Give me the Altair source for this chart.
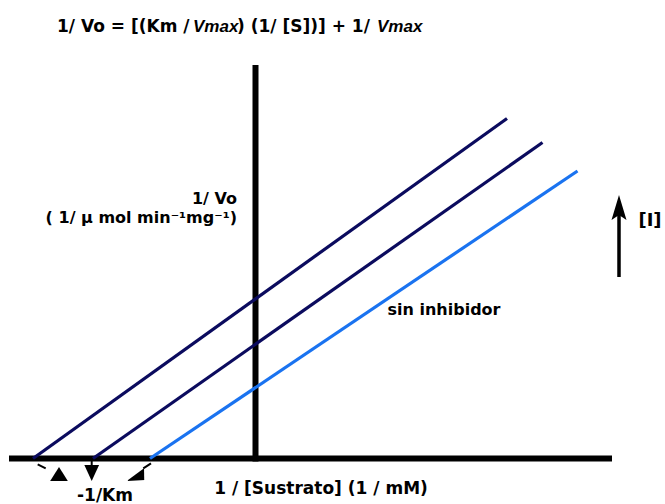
import altair as alt
import pandas as pd

# Data units: x = 1/[S], y = 1/Vo (schematic units)
X_DOMAIN = [-5.11, 8.19]
Y_DOMAIN = [-0.91, 9.17]

# axes of the diagram
axis_names = ["eje x", "eje y"]
axis_x0 = [-4.93, 0.0]
axis_x1 = [7.13, 0.0]
axis_y0 = [0.0, -0.06]
axis_y1 = [0.0, 7.87]

# Lineweaver-Burk lines (parallel: uncompetitive inhibition)
line_names = ["[I] alta", "[I] baja", "sin inhibidor"]
line_x0 = [-4.45, -3.25, -2.11]   # -1/Km intercepts
line_y0 = [0.0, 0.0, 0.0]
line_x1 = [5.03, 5.74, 6.44]
line_y1 = [6.80, 6.32, 5.75]
line_colors = ["#0b0b5e", "#0b0b5e", "#1a73f0"]

# small dashed extensions / arrow stems below the x axis
dash_x0 = [-4.356, -2.090]
dash_y0 = [-0.116, -0.096]
dash_x1 = [-4.196, -2.244]
dash_y1 = [-0.196, -0.196]
stem_x = [-3.276]
stem_y0 = [-0.05]
stem_y1 = [-0.15]

# arrowheads below the axis
up_x, up_y = [-3.93], [-0.31]
down_x, down_y = [-3.276], [-0.29]
diag_x, diag_y = [-2.35], [-0.35]

# [I] arrow
i_arrow_x = [7.27]
i_arrow_y0 = [3.63]
i_arrow_y1 = [4.87]
i_head_y = [5.02]

# text
title_plain = ["1/ Vo = [(Km /", ") (1/ [S])] + 1/"]
title_plain_x = [-1.32, -0.37]
title_plain_align = ["right", "left"]
title_ital = ["Vmax", "Vmax"]
title_ital_x = [-1.25, 2.43]
title_y = 8.53

ylab_text = ["1/ Vo", "( 1/ \u00b5 mol min\u207b\u00b9mg\u207b\u00b9)"]
ylab_x = [-0.37, -0.37]
ylab_y = [5.09, 4.72]

misc_text = ["sin inhibidor", "1 / [Sustrato] (1 / mM)", "-1/Km", "[I]"]
misc_x = [3.77, 1.31, -3.01, 7.89]
misc_y = [2.87, -0.71, -0.85, 4.65]
misc_size = [16, 17, 17, 18]

xs = alt.Scale(domain=X_DOMAIN, nice=False, zero=False)
ys = alt.Scale(domain=Y_DOMAIN, nice=False, zero=False)

def X(f="x"):
    return alt.X(f"{f}:Q", scale=xs, axis=None)

def Y(f="y"):
    return alt.Y(f"{f}:Q", scale=ys, axis=None)

axes_df = pd.DataFrame({"name": axis_names, "x": axis_x0, "x2": axis_x1, "y": axis_y0, "y2": axis_y1})
axes = alt.Chart(axes_df).mark_rule(color="black", strokeWidth=6, strokeCap="butt").encode(
    x=X(), x2="x2:Q", y=Y(), y2="y2:Q")

lines_df = pd.DataFrame({"name": line_names, "x": line_x0, "x2": line_x1, "y": line_y0, "y2": line_y1})
lines = alt.Chart(lines_df).mark_rule(strokeWidth=3.2, strokeCap="butt").encode(
    x=X(), x2="x2:Q", y=Y(), y2="y2:Q",
    color=alt.Color("name:N", scale=alt.Scale(domain=line_names, range=line_colors), legend=None))

dash_df = pd.DataFrame({"x": dash_x0, "x2": dash_x1, "y": dash_y0, "y2": dash_y1})
dashes = alt.Chart(dash_df).mark_rule(color="black", strokeWidth=2).encode(
    x=X(), x2="x2:Q", y=Y(), y2="y2:Q")

stem_df = pd.DataFrame({"x": stem_x, "y": stem_y0, "y2": stem_y1})
stem = alt.Chart(stem_df).mark_rule(color="black", strokeWidth=2).encode(
    x=X(), y=Y(), y2="y2:Q")

def head(xv, yv, path, size):
    df = pd.DataFrame({"x": xv, "y": yv})
    return alt.Chart(df).mark_point(shape=path, filled=True, size=size, color="black",
                                    opacity=1, strokeWidth=0).encode(x=X(), y=Y())

up_head = head(up_x, up_y, "M0,-0.8L1,0.8L-1,0.8Z", 313)
down_head = head(down_x, down_y, "M-0.92,-1L0.92,-1L0,1Z", 256)
diag_head = head(diag_x, diag_y, "M-0.94,0.42L0.52,0.33L0.5,-0.64Z", 576)

iarrow_df = pd.DataFrame({"x": i_arrow_x, "y": i_arrow_y0, "y2": i_arrow_y1})
iarrow = alt.Chart(iarrow_df).mark_rule(color="black", strokeWidth=3.5).encode(
    x=X(), y=Y(), y2="y2:Q")
ihead = head(i_arrow_x, i_head_y, "M0,-1L0.6,1L0,0.6L-0.6,1Z", 625)

def texts(df, align, size, style="normal", font="DejaVu Sans"):
    return alt.Chart(df).mark_text(align=align, baseline="alphabetic", font=font,
                                   fontWeight="bold", fontStyle=style, fontSize=size,
                                   color="black").encode(x=X(), y=Y(), text="text:N")

layers = [axes, lines, dashes, stem, up_head, down_head, diag_head, iarrow, ihead]

for t, xv, al in zip(title_plain, title_plain_x, title_plain_align):
    layers.append(texts(pd.DataFrame({"text": [t], "x": [xv], "y": [title_y]}), al, 17))
layers.append(texts(pd.DataFrame({"text": title_ital, "x": title_ital_x, "y": [title_y] * 2}),
                    "left", 17, style="italic", font="Liberation Sans"))
layers.append(texts(pd.DataFrame({"text": ylab_text, "x": ylab_x, "y": ylab_y}), "right", 16))
for t, xv, yv, sz in zip(misc_text, misc_x, misc_y, misc_size):
    layers.append(texts(pd.DataFrame({"text": [t], "x": [xv], "y": [yv]}), "center", sz))

chart = alt.layer(*layers).properties(
    width=665, height=504, padding=0,
    autosize=alt.AutoSizeParams(type="none"),
    background="white",
).configure_view(stroke=None)

chart.save("out.html", embed_options={"renderer": "svg", "actions": False})
